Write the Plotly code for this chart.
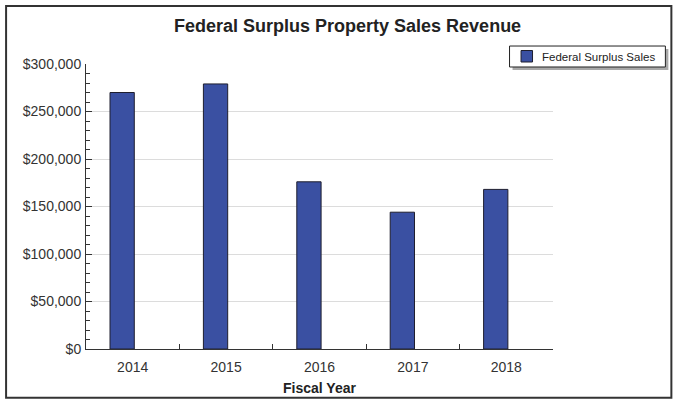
import plotly.graph_objects as go

years = ["2014", "2015", "2016", "2017", "2018"]
revenue = [270000, 279000, 176000, 144000, 168000]
series_name = "Federal Surplus Sales"
y_ticks = [0, 50000, 100000, 150000, 200000, 250000, 300000]
y_labels = ["$0", "$50,000", "$100,000", "$150,000", "$200,000", "$250,000", "$300,000"]

L, R, T, B = 86, 553.5, 64, 349.3
W, H = 677, 400
pw, ph = R - L, B - T
BAR_COLOR = "#3a50a2"

def px(x):
    return (x - L) / pw

def py(y):
    return (B - y) / ph

fig = go.Figure()
fig.add_trace(go.Bar(
    x=years, y=revenue, name=series_name,
    marker=dict(color=BAR_COLOR, line=dict(color="#1e1e2e", width=1)),
    width=0.26, offset=-0.243,
))

def rect(x0, x1, y0, y1, **kw):
    return dict(type="rect", xref="paper", yref="paper",
                x0=px(x0), x1=px(x1), y0=py(y1), y1=py(y0), **kw)

fig.update_layout(
    width=W, height=H,
    margin=dict(l=L, r=W - R, t=T, b=H - B, autoexpand=False),
    paper_bgcolor="white", plot_bgcolor="white",
    font=dict(family="Liberation Sans, Arial, sans-serif", size=14, color="#333"),
    showlegend=False,
    xaxis=dict(type="category", showline=True, linecolor="#333", linewidth=1,
               ticks="inside", tickson="boundaries", ticklen=5, tickcolor="#333",
               showgrid=False, tickfont=dict(size=14, color="#333"),
               ticklabelstandoff=5, automargin=False,
               title=dict(text="<b>Fiscal Year</b>", font=dict(size=14, color="#222"), standoff=9)),
    yaxis=dict(range=[0, 300000], tickvals=y_ticks, ticktext=y_labels,
               showline=True, linecolor="#333", linewidth=1,
               ticks="inside", ticklen=6, tickcolor="#333",
               showgrid=True, gridcolor="#dcdcdc", gridwidth=1,
               tickfont=dict(size=14, color="#333"), ticklabelstandoff=1,
               automargin=False,
               minor=dict(ticks="inside", dtick=10000, ticklen=4, tickcolor="#333", showgrid=False),
               zeroline=False),
    shapes=[
        rect(6, 672, 6, 398, line=dict(color="#333", width=2), fillcolor="rgba(0,0,0,0)", layer="above"),
        rect(513, 669, 49, 70, line=dict(width=0), fillcolor="#a8a8a8", layer="above"),
        rect(510, 666, 46, 67, line=dict(color="#222", width=1), fillcolor="white", layer="above"),
        rect(521.5, 533, 50.5, 62, line=dict(color="#1e1e2e", width=1), fillcolor=BAR_COLOR, layer="above"),
    ],
    annotations=[
        dict(text="<b>Federal Surplus Property Sales Revenue</b>", xref="paper", yref="paper",
             x=px(348), y=py(25.5), xanchor="center", yanchor="middle", showarrow=False,
             font=dict(size=18, color="#222")),
        dict(text=series_name, xref="paper", yref="paper",
             x=px(540), y=py(56.5), xanchor="left", yanchor="middle", showarrow=False,
             font=dict(size=11.5, color="#222")),
    ],
)

fig.write_html("out.html", config={"displayModeBar": False},
               post_script="document.body.style.margin='0';")
